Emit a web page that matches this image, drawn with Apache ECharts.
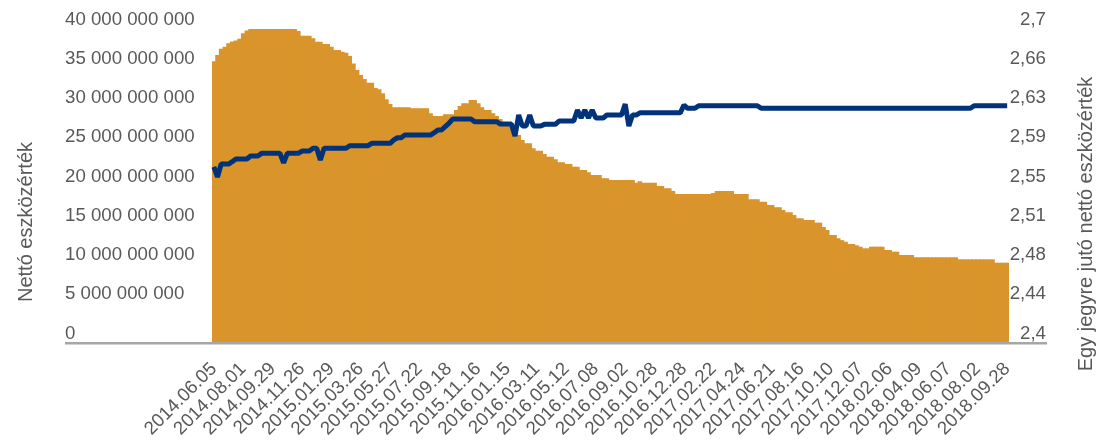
<!DOCTYPE html>
<html>
<head>
<meta charset="utf-8">
<script src="https://cdn.jsdelivr.net/npm/echarts@6/dist/echarts.min.js"></script>
<style>
html,body{margin:0;padding:0;background:#fff;}
#c{width:1100px;height:442px;}
</style>
</head>
<body>
<div id="c"></div>
<script>
// Tick labels on the category axis (every 8th category)
const dateLabels = ['2014.06.05','2014.08.01','2014.09.29','2014.11.26','2015.01.29','2015.03.26','2015.05.27','2015.07.22','2015.09.18','2015.11.16','2016.01.15','2016.03.11','2016.05.12','2016.07.08','2016.09.02','2016.10.28','2016.12.28','2017.02.22','2017.04.24','2017.06.21','2017.08.16','2017.10.10','2017.12.07','2018.02.06','2018.04.09','2018.06.07','2018.08.02','2018.09.28'];
const stepsBetweenLabels = 8;

// Nettó eszközérték (billion HUF), one value per category
const netAssets = [
35.9,36.7,37.5,37.75,38.2,38.4,38.55,38.75,39.45,39.8,
40,40,40,40,40,40,40,40,40,40,40,40,40,
39.75,39.15,39.15,39.15,38.82,38.38,38.38,38.09,38.09,37.75,37.33,37.33,37.1,36.98,36.56,35.6,34.78,34.14,33.63,33.16,33.16,32.5,32.32,31.81,31.04,30.45,
30.03,30.03,30.03,30.03,30.03,29.9,29.9,29.9,29.9,29.9,29.26,28.92,28.92,28.92,29.13,29.13,29.13,29.68,30.19,30.53,30.53,30.96,30.96,30.53,30.03,29.68,29.68,29.26,28.92,28.54,28.06,28.06,27.39,27.39,26.5,25.86,25.44,25.44,24.8,24.5,24.5,24.08,23.73,23.73,23.4,23.02,23.02,22.8,22.8,22.46,22.46,22.04,22.04,21.75,21.4,21.4,21.4,20.98,20.98,
20.76,20.76,20.76,20.76,20.76,20.76,20.76,20.42,20.6,20.42,20.42,20.42,20.42,20.0,20.0,19.71,19.71,19.36,
18.98,18.98,18.98,18.98,18.98,18.98,18.98,18.98,18.98,18.98,19.1,19.36,19.36,19.36,19.36,19.36,18.98,18.98,18.98,18.98,
18.31,18.31,18.31,18.0,18.0,17.58,17.58,17.29,17.29,16.94,16.65,16.65,16.31,15.89,15.89,15.67,15.67,15.67,15.33,15.33,14.78,14.4,13.76,13.76,13.34,13.1,12.9,12.61,12.61,12.45,12.27,12.06,12.06,12.27,12.27,12.27,12.27,11.85,11.85,11.63,11.63,11.21,11.21,11.21,11.21,
10.92,10.92,10.92,10.92,10.92,10.92,10.92,10.92,10.92,10.92,10.92,10.92,
10.66,10.66,10.66,10.66,10.66,10.66,10.66,10.66,10.66,10.66,
10.23,10.23,10.23,10.23
];

// Egy jegyre jutó nettó eszközérték, one value per category
const navPerUnit = [
2.5682,2.5586,2.5710,2.5710,2.5710,2.5732,2.5758,2.5758,2.5758,2.5758,2.5787,2.5787,2.5787,
2.5812,2.5812,2.5812,2.5812,2.5812,2.5812,2.5720,2.5812,2.5812,2.5812,2.5812,
2.5834,2.5834,2.5834,2.5860,2.5860,2.5748,2.5860,2.5860,2.5860,2.5860,2.5860,2.5860,2.5860,
2.5885,2.5885,2.5885,2.5885,2.5885,2.5885,2.5908,2.5908,2.5908,2.5908,2.5908,2.5908,
2.5940,2.5961,2.5961,2.5987,2.5987,2.5987,2.5987,2.5987,2.5987,2.5987,2.5987,
2.6009,2.6035,2.6035,2.6067,2.6099,2.6140,2.6140,2.6140,2.6140,2.6140,2.6140,
2.6114,2.6114,2.6114,2.6114,2.6114,2.6114,2.6114,2.6092,2.6092,2.6092,2.6092,
2.5978,2.6178,2.6073,2.6073,2.6178,2.6073,2.6073,2.6073,2.6089,2.6089,2.6089,2.6089,
2.6121,2.6121,2.6121,2.6121,2.6121,2.6226,2.6150,2.6226,2.6150,2.6226,2.6150,2.6150,2.6150,
2.6178,2.6178,2.6178,2.6178,2.6178,2.6283,2.6073,2.6178,2.6178,
2.6199,2.6199,2.6199,2.6199,2.6199,2.6199,2.6199,2.6199,2.6199,2.6199,2.6199,2.6199,
2.6274,2.6242,2.6242,2.6242,
2.6267,2.6267,2.6267,2.6267,2.6267,2.6267,2.6267,2.6267,2.6267,2.6267,2.6267,2.6267,2.6267,2.6267,2.6267,2.6267,2.6267,
2.6242,2.6242,2.6242,2.6242,2.6242,2.6242,2.6242,2.6242,2.6242,2.6242,
2.6242,2.6242,2.6242,2.6242,2.6242,2.6242,2.6242,2.6242,2.6242,2.6242,
2.6242,2.6242,2.6242,2.6242,2.6242,2.6242,2.6242,2.6242,2.6242,2.6242,
2.6242,2.6242,2.6242,2.6242,2.6242,2.6242,2.6242,2.6242,2.6242,2.6242,
2.6242,2.6242,2.6242,2.6242,2.6242,2.6242,2.6242,2.6242,2.6242,2.6242,
2.6242,2.6242,2.6242,2.6242,2.6242,2.6242,2.6242,2.6242,
2.6267,2.6267,2.6267,2.6267,2.6267,2.6267,2.6267,2.6267,2.6267,2.6267
];

const categories = [];
dateLabels.forEach(function (d, i) {
  categories.push(d);
  if (i < dateLabels.length - 1) {
    for (let j = 1; j < stepsBetweenLabels; j++) categories.push(d + ' +' + j);
  }
});

const FONT = 'Liberation Sans, Arial, sans-serif';
const TXT = '#595959';
const FS = 18.67;
const NAME_FS = 20;

function spaced(n) {
  return String(Math.round(n)).replace(/\B(?=(\d{3})+(?!\d))/g, ' ');
}

const chart = echarts.init(document.getElementById('c'), null, {renderer: 'canvas'});
chart.setOption({
  animation: false,
  backgroundColor: '#ffffff',
  textStyle: {fontFamily: FONT},
  grid: {left: 212, right: 91, top: 29, bottom: 99, containLabel: false, outerBoundsMode: 'none'},
  xAxis: {
    type: 'category',
    data: categories,
    boundaryGap: true,
    axisLine: {show: false},
    axisTick: {show: false},
    splitLine: {show: false},
    axisLabel: {
      interval: stepsBetweenLabels - 1,
      rotate: 45,
      margin: 23,
      showMinLabel: true,
      showMaxLabel: true,
      hideOverlap: false,
      fontSize: FS,
      color: TXT,
      fontFamily: FONT
    }
  },
  yAxis: [
    {
      type: 'value',
      min: 0, max: 40, interval: 5,
      name: 'Nettó eszközérték',
      nameLocation: 'middle',
      nameRotate: 90,
      nameGap: 186,
      nameTextStyle: {fontSize: NAME_FS, color: TXT, fontFamily: FONT, verticalAlign: 'middle', align: 'center', padding: [0, 72, 0, 0]},
      axisLine: {show: false},
      axisTick: {show: false},
      splitLine: {show: false},
      axisLabel: {
        align: 'left',
        verticalAlign: 'bottom',
        margin: 147,
        fontSize: FS,
        color: TXT,
        fontFamily: FONT,
        formatter: function (v) { return spaced(v * 1e9); }
      }
    },
    {
      type: 'value',
      min: 2.4, max: 2.7, interval: 0.0375,
      position: 'right',
      name: 'Egy jegyre jutó nettó eszközérték',
      nameLocation: 'middle',
      nameRotate: 90,
      nameGap: 77,
      nameTextStyle: {fontSize: NAME_FS, color: TXT, fontFamily: FONT, verticalAlign: 'middle', align: 'center', padding: [0, 76, 0, 0]},
      axisLine: {show: false},
      axisTick: {show: false},
      splitLine: {show: false},
      axisLabel: {
        align: 'right',
        verticalAlign: 'bottom',
        margin: 37,
        fontSize: FS,
        color: TXT,
        fontFamily: FONT,
        formatter: function (v) {
          const r = Math.round(v * 100 + 1e-6) / 100;
          return String(r).replace('.', ',');
        }
      }
    }
  ],
  series: [
    {
      type: 'bar',
      data: netAssets,
      yAxisIndex: 0,
      barWidth: 4.6,
      itemStyle: {color: '#D9952B'},
      emphasis: {disabled: true},
      z: 1
    },
    {
      type: 'line',
      data: navPerUnit,
      yAxisIndex: 1,
      symbol: 'none',
      lineStyle: {color: '#00337A', width: 5},
      emphasis: {disabled: true},
      z: 3
    }
  ],
  graphic: [
    {
      type: 'rect',
      shape: {x: 65, y: 342, width: 982, height: 2.4},
      style: {fill: '#A6A6A6'},
      z: 100,
      silent: true
    }
  ]
});
</script>
</body>
</html>
